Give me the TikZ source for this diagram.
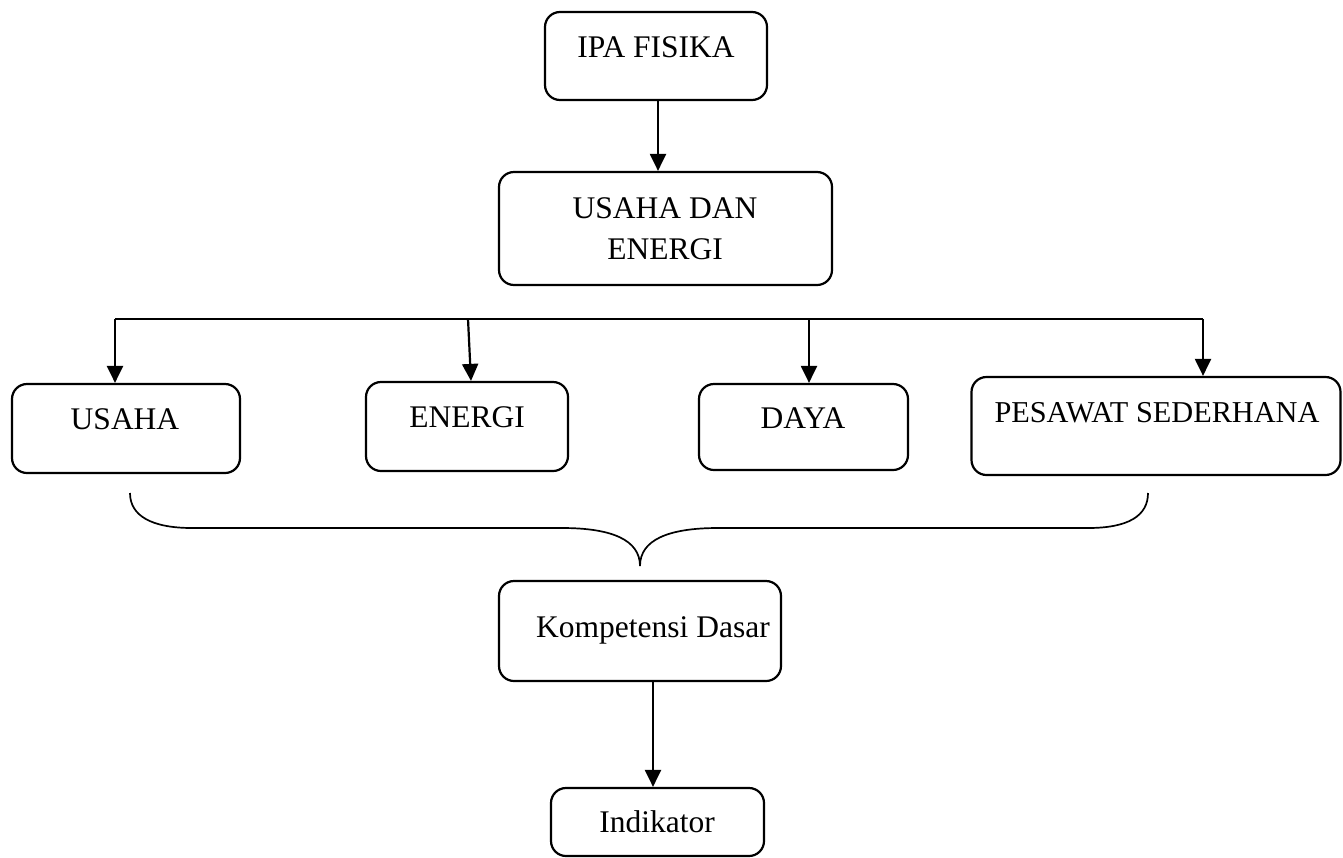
\documentclass[tikz,border=0pt]{standalone}
\usepackage{fontspec}
\setmainfont{Liberation Serif}
\usetikzlibrary{arrows.meta}
\begin{document}
\begin{tikzpicture}[x=1pt,y=-1pt,
  box/.style={draw, line width=2.2pt, rounded corners=15pt, inner sep=0pt},
  lbl/.style={anchor=base, inner sep=0pt, font=\fontsize{31.5}{38}\selectfont},
  small/.style={font=\fontsize{30.3}{36}\selectfont},
  arr/.style={line width=2.2pt, -{Triangle[width=16pt,length=17pt]}},
  brace/.style={line width=1.7pt}]
\useasboundingbox (0,0) rectangle (1343,857);

% boxes
\node[box, minimum width=222pt, minimum height=88pt] (ipa) at (656,56) {};
\node[box, minimum width=333pt, minimum height=113pt] (ude) at (665.5,228.5) {};
\node[box, minimum width=228pt, minimum height=89pt] (usaha) at (126,428.5) {};
\node[box, minimum width=202pt, minimum height=89pt] (energi) at (467,426.5) {};
\node[box, minimum width=209pt, minimum height=86pt] (daya) at (803.5,427) {};
\node[box, minimum width=369pt, minimum height=98pt] (pesawat) at (1156,426) {};
\node[box, minimum width=282pt, minimum height=100pt] (komp) at (640,631) {};
\node[box, minimum width=213pt, minimum height=68pt] (indik) at (657.5,822) {};

% labels
\node[lbl] (ipa-t) at (656,57) {IPA FISIKA};
\node[lbl] (ude-t1) at (665,218) {USAHA DAN};
\node[lbl] (ude-t2) at (665,259) {ENERGI};
\node[lbl] (usaha-t) at (125,429) {USAHA};
\node[lbl] (energi-t) at (467,427) {ENERGI};
\node[lbl] (daya-t) at (803,428) {DAYA};
\node[lbl, small] (pesawat-t) at (1157,422) {PESAWAT SEDERHANA};
\node[lbl] (komp-t) at (653,637) {Kompetensi Dasar};
\node[lbl] (indik-t) at (657,832) {Indikator};

% connectors
\coordinate (ipa-out) at ([xshift=2pt]ipa.south);
\draw[arr] (ipa-out) -- (ipa-out |- ude.north);

\coordinate (bar-l) at (115,319);
\coordinate (bar-e) at (468,319);
\coordinate (bar-d) at (809,319);
\coordinate (bar-r) at (1203,319);
\draw[line width=2.2pt] (bar-l) -- (bar-r);
\draw[arr] (bar-l) -- (bar-l |- usaha.north);
\draw[arr] (bar-e) -- (471,0 |- energi.north);
\draw[arr] (bar-d) -- (bar-d |- daya.north);
\draw[arr] (bar-r) -- (bar-r |- pesawat.north);

\coordinate (komp-out) at (653,0 |- komp.south);
\draw[arr] (komp-out) -- (komp-out |- indik.north);

% curly brace gathering the four topics
\draw[brace] (130,493) .. controls (130,516) and (152,528) .. (192,528)
  -- (562,528) .. controls (612,528) and (640,540) .. (640,566)
  .. controls (640,540) and (668,528) .. (718,528)
  -- (1088,528) .. controls (1128,528) and (1148,516) .. (1148,493);
\end{tikzpicture}
\end{document}
